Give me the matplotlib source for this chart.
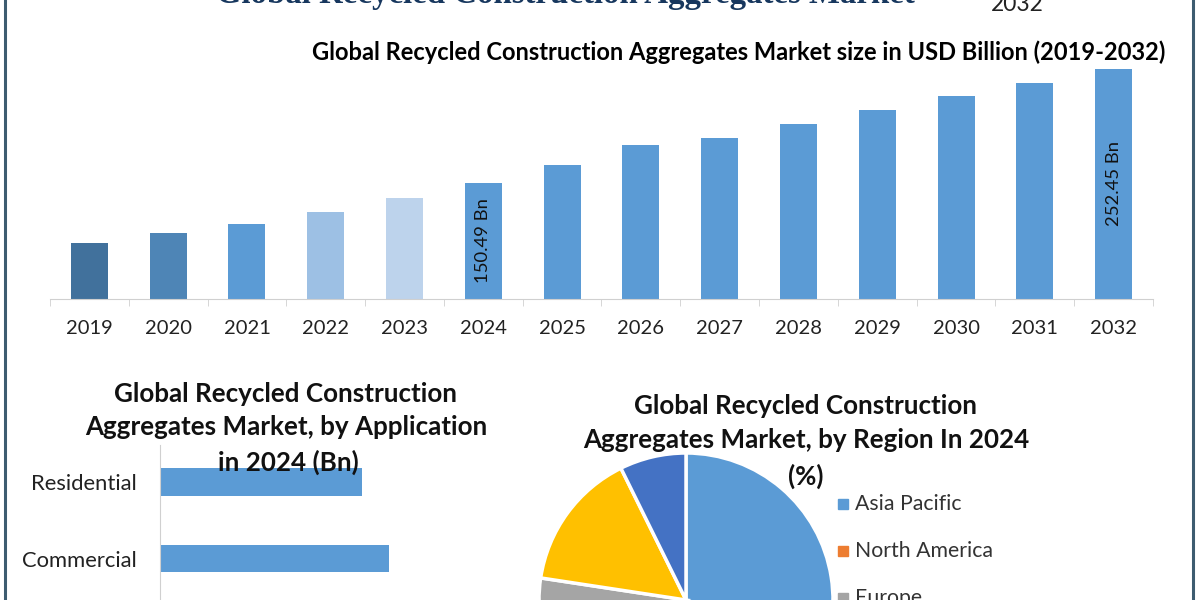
#!/usr/bin/env python3

# recycled construction aggregates market infographic, cropped like the original
import matplotlib
matplotlib.use('Agg')
import matplotlib.pyplot as plt

years = ['2019', '2020', '2021', '2022', '2023', '2024', '2025', '2026', '2027', '2028', '2029', '2030', '2031', '2032']
market_size = [96.8, 105.7, 113.8, 124.5, 137.0, 150.49, 166.5, 184.4, 190.6, 203.2, 215.7, 228.2, 239.8, 252.45]
labelled_years = ['2024', '2032']

applications = ['Residential', 'Commercial']
application_size = [202, 229]

regions = ['Asia Pacific', 'North America', 'Europe', 'Middle East and Africa', 'South America']
region_share = [45.0, 22.0, 10.4, 15.3, 7.3]
legend_regions = ['Asia Pacific', 'North America', 'Europe']

bar_blue = '#5b9bd5'
year_colors = ['#41719c', '#4e85b6', bar_blue, '#9dc0e4', '#bdd3ec'] + [bar_blue] * 9
region_colors = ['#5b9bd5', '#ed7d31', '#a5a5a5', '#ffc000', '#4472c4']

W, H = 1200, 600
plt.rcParams['font.family'] = ['Lato', 'DejaVu Sans']

def add_axes_px(left, top, right, bottom):
	"""Axes from pixel box, y measured from the top of the image"""
	return fig.add_axes([left / W, 1 - bottom / H, (right - left) / W, (bottom - top) / H])

def fig_text(x, y, s, **kwargs):
	"""Figure text at pixel position"""
	return fig.text(x / W, 1 - y / H, s, **kwargs)

fig = plt.figure(figsize = (12, 6), dpi = 100, facecolor = 'white')

# frame lines on both sides
for x in [5, 1193]:
	fig.add_artist(plt.Line2D([x / W, x / W], [0, 1], color = '#3d5c70', lw = 2.2))

# main title, cut by the top of the image
fig_text(565, 3, 'Global Recycled Construction Aggregates Market', family = 'Liberation Serif', weight = 'bold',
	fontsize = 23.7, color = '#17375e', ha = 'center', va = 'baseline')
fig_text(1017, 11, '2032', fontsize = 16.5, color = '#222222', ha = 'center', va = 'baseline')

# top bar chart
fig_text(739, 52, 'Global Recycled Construction Aggregates Market size in USD Billion (2019-2032)',
	fontsize = 17, weight = 'bold', color = 'black', ha = 'center', va = 'center')
ax = add_axes_px(50, 60, 1153, 299)
ax.bar(years, market_size, width = 0.47, color = year_colors)
ax.set_xlim(-0.5, 13.5)
ax.set_ylim(46.7, 46.7 + 239 * 0.894)
for year in labelled_years:
	i = years.index(year)
	ax.text(i, (46.7 + market_size[i]) / 2, '{} Bn'.format(market_size[i]), rotation = 90,
		fontsize = 13.3, color = '#111111', ha = 'center', va = 'center')
for side in ['top', 'left', 'right']:
	ax.spines[side].set_visible(False)
ax.spines['bottom'].set_color('#d0d0d0')
ax.set_yticks([])
ax.set_xticks([i - 0.5 for i in range(15)], minor = True)
ax.tick_params(axis = 'x', which = 'minor', length = 5, color = '#d0d0d0')
ax.tick_params(axis = 'x', which = 'major', length = 0, pad = 15, labelsize = 14.5, labelcolor = '#222222')

# application bars, third category falls outside the image
fig_text(286, 394, 'Global Recycled Construction', fontsize = 18.7, weight = 'bold', color = '#111111', ha = 'center', va = 'center')
fig_text(286, 427, 'Aggregates Market, by Application', fontsize = 18.7, weight = 'bold', color = '#111111', ha = 'center', va = 'center')
fig_text(288, 462, 'in 2024 (Bn)', fontsize = 18.7, weight = 'bold', color = '#111111', ha = 'center', va = 'center', zorder = 5)
ax2 = add_axes_px(160, 445, 480, 600)
ax2.barh(applications, application_size, height = 0.36, color = bar_blue)
ax2.set_xlim(0, 320)
ax2.set_ylim(1.54, -0.484)
ax2.patch.set_alpha(0)
for side in ['top', 'bottom', 'right']:
	ax2.spines[side].set_visible(False)
ax2.spines['left'].set_color('#d0d0d0')
ax2.set_xticks([])
ax2.tick_params(axis = 'y', length = 0, pad = 17, labelsize = 15.8, labelcolor = '#222222')

# region pie, lower half cut off
ax3 = add_axes_px(686 - 147, 453, 686 + 147, 747)
ax3.set_clip_on(False)
wedges, _ = ax3.pie(region_share, colors = region_colors, startangle = 90, counterclock = False, radius = 1,
	wedgeprops = {'edgecolor': 'white', 'linewidth': 2.5})
ax3.set_xlim(-1, 1)
ax3.set_ylim(-1, 1)
fig_text(806, 406, 'Global Recycled Construction', fontsize = 18.7, weight = 'bold', color = '#111111', ha = 'center', va = 'center', zorder = 5)
fig_text(806, 440, 'Aggregates Market, by Region In 2024', fontsize = 18.7, weight = 'bold', color = '#111111', ha = 'center', va = 'center', zorder = 5)
fig_text(806, 476, '(%)', fontsize = 18.7, weight = 'bold', color = '#111111', ha = 'center', va = 'center', zorder = 5)

# legend drawn by hand since the lower rows are off the image
for k, name in enumerate(legend_regions):
	y = 504 + k * 47
	color = region_colors[regions.index(name)]
	fig.add_artist(plt.Line2D([843 / W], [1 - y / H], marker = 's', markersize = 6.5, color = color, linestyle = 'none'))
	fig_text(855, y, name, fontsize = 15.3, color = '#333333', ha = 'left', va = 'center')

fig.savefig('out.png', dpi = 100)
